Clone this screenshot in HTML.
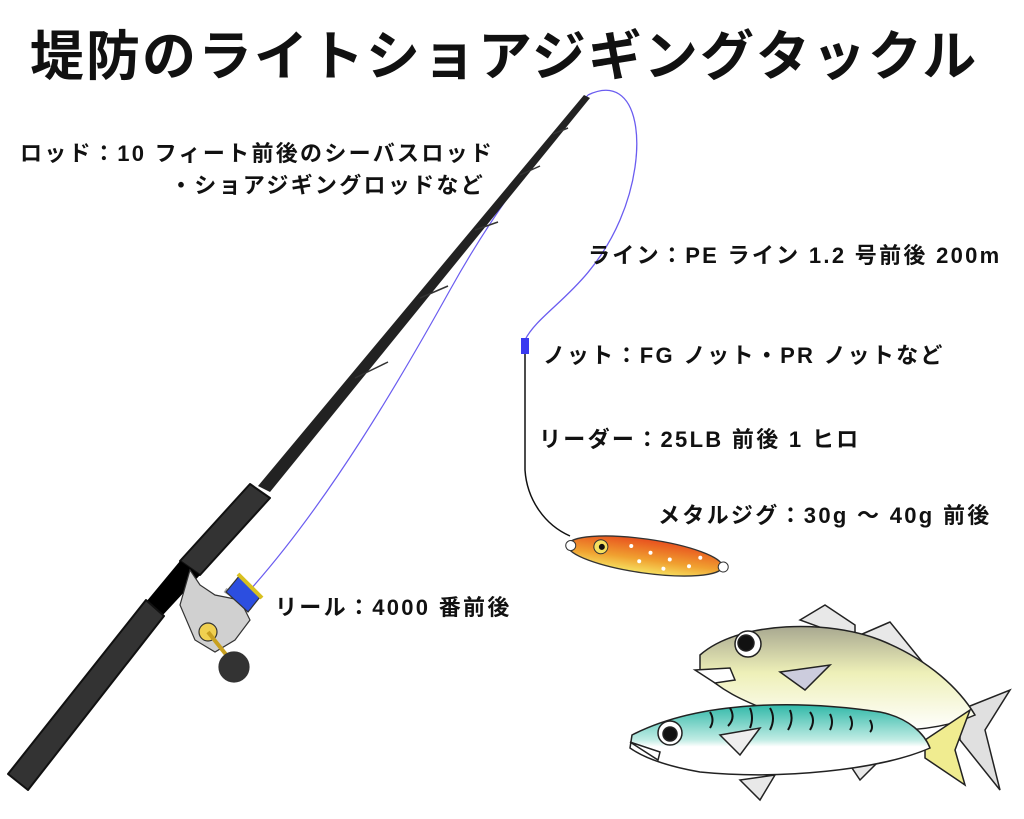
<!DOCTYPE html>
<html><head><meta charset="utf-8"><style>
body{margin:0;background:#fff;width:1024px;height:819px;overflow:hidden;position:relative;font-family:"Liberation Sans","Noto Sans CJK JP",sans-serif;}
.t{position:absolute;font-weight:bold;color:#111;white-space:nowrap;font-size:22px;letter-spacing:2.3px;}
svg{position:absolute;left:0;top:0}
</style></head><body>
<svg width="1024" height="819" viewBox="0 0 1024 819">
<defs>
<linearGradient id="lure" x1="0" y1="0" x2="0" y2="1"><stop offset="0" stop-color="#e8501e"/><stop offset="0.6" stop-color="#f0a030"/><stop offset="1" stop-color="#f6e060"/></linearGradient>
<linearGradient id="aji" x1="0" y1="0" x2="0" y2="1"><stop offset="0" stop-color="#a8a890"/><stop offset="0.45" stop-color="#eef0b8"/><stop offset="1" stop-color="#fff"/></linearGradient>
<linearGradient id="saba" x1="0" y1="0" x2="0" y2="1"><stop offset="0" stop-color="#30b8a8"/><stop offset="0.5" stop-color="#c0ece4"/><stop offset="0.6" stop-color="#fff"/></linearGradient>
</defs>
<path d="M250 590 C330 500 400 380 450 290 C500 200 550 140 588 95" fill="none" stroke="#6a5cf0" stroke-width="1.2"/>
<path d="M588 95 C640 70 650 150 620 220 C590 290 540 310 525 340" fill="none" stroke="#6a5cf0" stroke-width="1.3"/>
<path d="M525 350 L525 470 C527 500 545 525 570 536" fill="none" stroke="#111" stroke-width="1.5"/>
<rect x="521" y="338" width="8" height="16" fill="#3a3af0"/>
<polygon points="584,95 590,98 270,492 258,486" fill="#222"/>
<g stroke="#333" stroke-width="1.5" fill="none">
<path d="M553 134 L568 128"/><path d="M520 175 L540 166"/><path d="M475 230 L498 222"/><path d="M420 298 L448 286"/><path d="M355 378 L388 362"/>
</g>
<polygon points="250,484 270,498 200,575 180,561" fill="#333" stroke="#111" stroke-width="2" stroke-linejoin="round"/>
<polygon points="180,561 200,575 162,616 146,602" fill="#000"/>
<polygon points="146,600 164,616 28,790 8,774" fill="#333" stroke="#111" stroke-width="2" stroke-linejoin="round"/>
<g stroke="#333" stroke-width="1.2">
<path d="M190 570 L180 605 L195 640 L215 652 L235 640 L250 620 L240 600 L215 595 L200 585 Z" fill="#d0d0d0"/>
<circle cx="208" cy="632" r="9" fill="#f0d050"/>
<path d="M208 632 L232 662" stroke="#c8a020" stroke-width="4"/>
<circle cx="234" cy="667" r="15" fill="#333"/>
<path d="M225 590 L252 608" stroke-width="5" stroke="#aaa"/>
<polygon points="226,592 240,575 260,597 248,612" fill="#2c4ee0"/>
<path d="M238 574 L262 598" stroke="#d8c020" stroke-width="4"/>
</g>
<g transform="rotate(8 645 556)">
<ellipse cx="645" cy="556" rx="78" ry="17" fill="url(#lure)" stroke="#333" stroke-width="1.3"/>
<circle cx="570" cy="556" r="5" fill="#fff" stroke="#333"/><circle cx="724" cy="556" r="5" fill="#fff" stroke="#333"/>
<circle cx="600" cy="553" r="7" fill="#f6e060" stroke="#333"/><circle cx="601" cy="553" r="3" fill="#111"/>
<g fill="#fff"><circle cx="630" cy="548" r="2"/><circle cx="650" cy="552" r="2"/><circle cx="670" cy="556" r="2"/><circle cx="640" cy="562" r="2"/><circle cx="665" cy="566" r="2"/><circle cx="690" cy="560" r="2"/><circle cx="700" cy="550" r="2"/></g>
</g>
<g stroke="#222" stroke-width="1.5">
<path d="M800 620 L825 605 L855 625 L855 640 Z" fill="#e8e8e8"/>
<path d="M860 635 L890 622 L945 690 Z" fill="#e8e8e8"/>
<path d="M960 710 L1010 690 L985 730 L1000 790 L960 740 Z" fill="#e0e0e0"/>
<path d="M700 655 C740 620 830 620 880 640 C930 660 960 690 975 715 C920 740 840 730 780 715 C740 700 720 690 700 670 Z" fill="url(#aji)"/>
<circle cx="748" cy="644" r="13" fill="#fff"/><circle cx="746" cy="643" r="8" fill="#111"/>
<path d="M695 670 L730 668 L735 680 L715 683 Z" fill="#fff"/>
<path d="M780 672 L830 665 L805 690 Z" fill="#ccd"/>
</g>
<g stroke="#222" stroke-width="1.5">
<path d="M740 780 L760 800 L775 775 Z" fill="#e8e8e8"/>
<path d="M850 765 L880 760 L860 780 Z" fill="#e8e8e8"/>
<path d="M925 740 L970 710 L955 750 L965 785 L925 758 Z" fill="#f0ec90"/>
<path d="M632 735 C700 700 800 700 880 712 C910 718 925 735 930 748 C880 770 780 780 700 772 C660 765 640 755 630 748 Z" fill="url(#saba)"/>
<circle cx="670" cy="733" r="12" fill="#fff"/><circle cx="670" cy="734" r="7" fill="#111"/>
<path d="M630 742 L660 752 L658 760 Z" fill="#fff"/>
<path d="M720 735 L760 728 L740 755 Z" fill="#eee"/>
<g fill="none" stroke="#111" stroke-width="2">
<path d="M710 712 q5 8 0 16 M730 708 q6 10 -2 18 M750 708 q4 10 0 20 M770 708 q6 10 0 22 M790 710 q4 10 -2 20 M810 712 q6 8 0 18 M830 714 q4 8 0 16 M850 716 q4 8 0 14 M870 720 q4 8 0 12"/>
</g>
</g>
</svg>
<div class="t" style="left:30px;top:12px;font-size:54px;letter-spacing:2px;">堤防のライトショアジギングタックル</div>
<div class="t" style="left:20px;top:136px;">ロッド：10 フィート前後のシーバスロッド</div>
<div class="t" style="left:170px;top:168px;">・ショアジギングロッドなど</div>
<div class="t" style="left:588px;top:238px;">ライン：PE ライン 1.2 号前後 200m</div>
<div class="t" style="left:543px;top:338px;">ノット：FG ノット・PR ノットなど</div>
<div class="t" style="left:539px;top:422px;">リーダー：25LB 前後 1 ヒロ</div>
<div class="t" style="left:658px;top:498px;">メタルジグ：30g ～ 40g 前後</div>
<div class="t" style="left:275px;top:590px;">リール：4000 番前後</div>
</body></html>
